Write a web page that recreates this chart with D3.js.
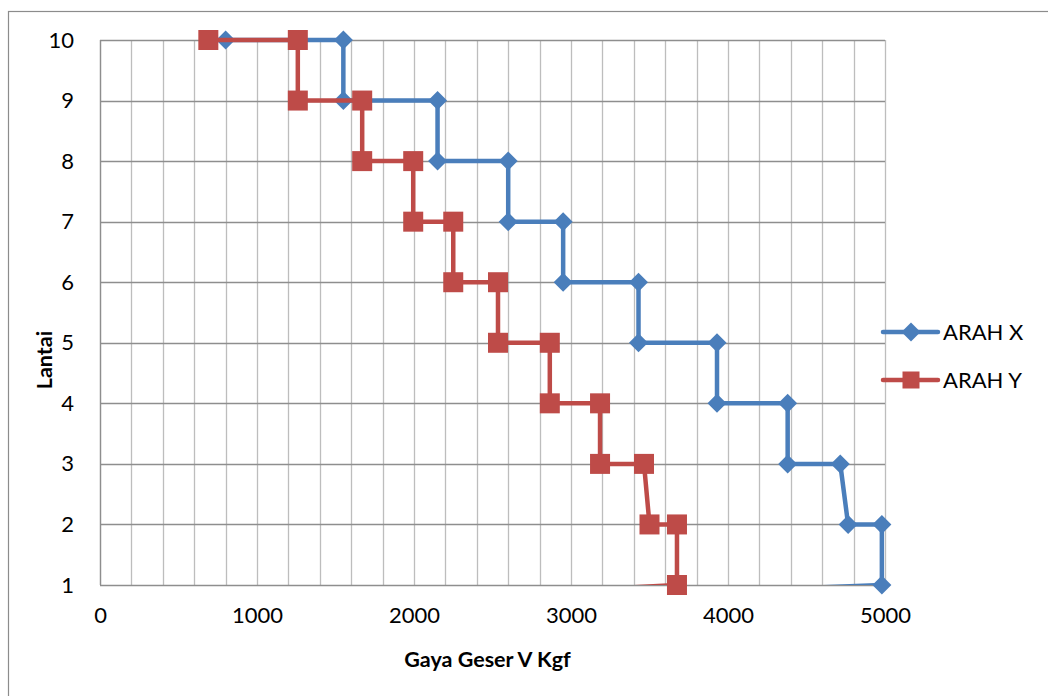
<!DOCTYPE html>
<html>
<head>
<meta charset="utf-8">
<script src="https://cdn.jsdelivr.net/npm/d3@7"></script>
<style>
  body { margin: 0; background: #fff; }
  text { font-family: Lato, 'Open Sans', sans-serif; fill: #000; }
</style>
</head>
<body>
<div id="canvas"></div>
<script>
'use strict';

// Storey levels and shear force per storey.
// The last point of each series sits below the axis and gets clipped.
const xTicks = [0, 1000, 2000, 3000, 4000, 5000];
const yTicks = [1, 2, 3, 4, 5, 6, 7, 8, 9, 10];
const arahXForce = [800, 1550, 1550, 2150, 2150, 2600, 2600, 2950, 2950,
  3430, 3430, 3930, 3930, 4380, 4380, 4715, 4765, 4980, 4980, 0];
const arahXLevel = [10, 10, 9, 9, 8, 8, 7, 7, 6, 6, 5, 5, 4, 4, 3, 3, 2, 2,
  1, 0.5];
const arahYForce = [690, 1260, 1260, 1670, 1670, 1995, 1995, 2250, 2250,
  2535, 2535, 2865, 2865, 3185, 3185, 3465, 3500, 3675, 3675, 0];
const arahYLevel = [10, 10, 9, 9, 8, 8, 7, 7, 6, 6, 5, 5, 4, 4, 3, 3, 2, 2,
  1, 0.5];

const series = [
  {key: 'ARAH X', color: '#4a7ebb', marker: 'diamond',
    data: arahXForce.map((x, i) => ({x, y: arahXLevel[i]}))},
  {key: 'ARAH Y', color: '#be4b48', marker: 'square',
    data: arahYForce.map((x, i) => ({x, y: arahYLevel[i]}))},
];

const width = 1048;
const height = 696;
const margins = {top: 40, right: 163, bottom: 111, left: 100};
const chartWidth = width - margins.left - margins.right;
const chartHeight = height - margins.top - margins.bottom;

const svg = d3.select('#canvas').append('svg')
    .attr('width', width)
    .attr('height', height);

// Outer chart border, runs off the right and bottom of the picture.
svg.append('rect')
    .attr('x', 8.5)
    .attr('y', 11.5)
    .attr('width', width)
    .attr('height', height)
    .attr('fill', 'none')
    .attr('stroke', '#8c8c8c')
    .attr('stroke-width', 1.2);

const chart = svg.append('g')
    .attr('transform', `translate(${margins.left}, ${margins.top})`);

chart.append('defs')
    .append('clipPath')
    .attr('id', 'plot-clip')
    .append('rect')
    .attr('x', -20)
    .attr('y', -20)
    .attr('width', chartWidth + 40)
    .attr('height', chartHeight + 20);

const x = d3.scaleLinear().domain([0, 5000]).range([0, chartWidth]);
const y = d3.scaleLinear().domain([1, 10]).range([chartHeight, 0]);

// Minor vertical gridlines every 200.
chart.append('g')
    .selectAll('line')
    .data(d3.range(0, 5001, 200))
    .join('line')
    .attr('x1', d => Math.round(x(d)) + 0.5)
    .attr('x2', d => Math.round(x(d)) + 0.5)
    .attr('y1', 0)
    .attr('y2', chartHeight)
    .attr('stroke', '#bdbdbd')
    .attr('stroke-width', 1.3);

chart.append('g')
    .selectAll('line')
    .data(yTicks)
    .join('line')
    .attr('x1', 0)
    .attr('x2', chartWidth)
    .attr('y1', d => Math.round(y(d)) + 0.5)
    .attr('y2', d => Math.round(y(d)) + 0.5)
    .attr('stroke', '#8e8e8e')
    .attr('stroke-width', 1.3);

chart.append('line')
    .attr('x1', 0.5).attr('x2', 0.5)
    .attr('y1', 0).attr('y2', chartHeight)
    .attr('stroke', '#8e8e8e')
    .attr('stroke-width', 1.3);

const xAxis = chart.append('g')
    .attr('transform', `translate(0, ${chartHeight})`)
    .call(d3.axisBottom(x).tickValues(xTicks).tickSize(0).tickPadding(22)
        .tickFormat(d3.format('d')));
const yAxis = chart.append('g')
    .call(d3.axisLeft(y).tickValues(yTicks).tickSize(0).tickPadding(26)
        .tickFormat(d3.format('d')));
[xAxis, yAxis].forEach(axis => {
  axis.select('.domain').remove();
  axis.selectAll('text')
      .attr('fill', '#000')
      .style('font-family', 'Lato, sans-serif')
      .style('font-size', '22px');
});

svg.append('text')
    .attr('x', margins.left + chartWidth / 2 - 5)
    .attr('y', 667)
    .attr('text-anchor', 'middle')
    .style('font-size', '21.5px')
    .style('font-weight', 'bold')
    .text('Gaya Geser V Kgf');

svg.append('text')
    .attr('transform', 'translate(52, 360) rotate(-90)')
    .attr('text-anchor', 'middle')
    .style('font-size', '21.5px')
    .style('font-weight', 'bold')
    .text('Lantai');

const pathGenerator = d3.line()
    .x(d => x(d.x))
    .y(d => y(d.y));

/** Draws a marker of the given shape centred at (cx, cy). */
function drawMarker(group, shape, cx, cy, size, color) {
  if (shape === 'square') {
    group.append('rect')
        .attr('x', cx - size / 2)
        .attr('y', cy - size / 2)
        .attr('width', size)
        .attr('height', size)
        .attr('fill', color);
  } else {
    const r = size / 2;
    group.append('path')
        .attr('d', `M${cx},${cy - r}L${cx + r},${cy}L${cx},${cy + r}` +
            `L${cx - r},${cy}Z`)
        .attr('fill', color);
  }
}

series.forEach(({key, color, marker, data}) => {
  chart.append('path')
      .datum(data)
      .attr('d', pathGenerator)
      .attr('fill', 'none')
      .attr('stroke', color)
      .attr('stroke-width', 4.5)
      .attr('stroke-linejoin', 'round')
      .attr('clip-path', 'url(#plot-clip)');
  const dots = chart.append('g');
  data.filter(d => d.y >= 1).forEach(d => {
    drawMarker(dots, marker, x(d.x), y(d.y),
        marker === 'square' ? 20 : 19, color);
  });
});

// Legend on the right.
const legend = svg.append('g').attr('class', 'legend');
series.forEach(({key, color, marker}, index) => {
  const ly = 332 + index * 48;
  legend.append('line')
      .attr('x1', 883).attr('x2', 938)
      .attr('y1', ly).attr('y2', ly)
      .attr('stroke', color)
      .attr('stroke-width', 4.5)
      .attr('stroke-linecap', 'round');
  drawMarker(legend, marker, 911, ly, marker === 'square' ? 17 : 19, color);
  legend.append('text')
      .attr('x', 943)
      .attr('y', ly + 8)
      .style('font-size', '22px')
      .text(key);
});
</script>
</body>
</html>
